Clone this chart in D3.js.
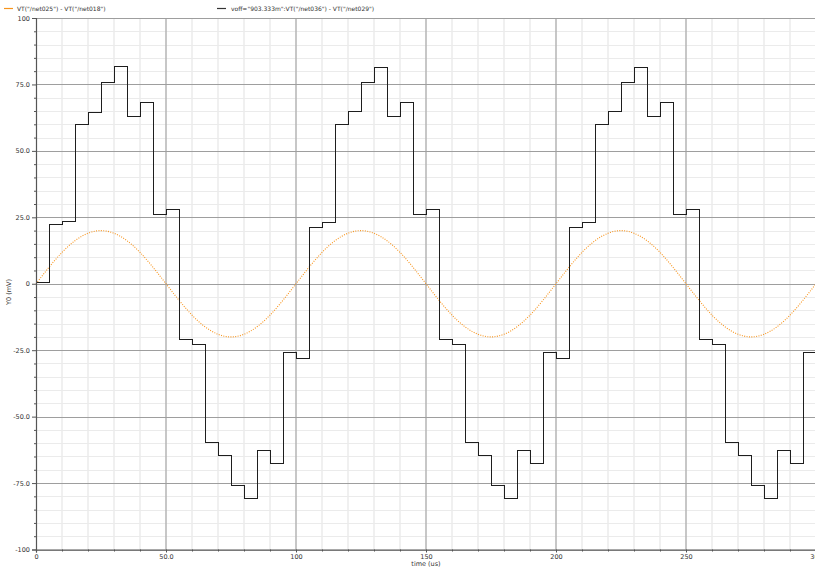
<!DOCTYPE html>
<html><head><meta charset="utf-8">
<script src="https://cdn.jsdelivr.net/npm/d3@7"></script>
<style>
body{margin:0;background:#fff;}
text{font-family:"DejaVu Sans",sans-serif;fill:#333;}
</style></head>
<body><svg id="c" width="815" height="570"></svg>
<script>
// ---- data ----
const legendLabels = ['VT("/net025") - VT("/net018")', 'voff="903.333m":VT("/net036") - VT("/net029")'];
const xTickValues = [0, 50, 100, 150, 200, 250, 300];
const xTickLabels = ["0", "50.0", "100", "150", "200", "250", "300"];
const yTickValues = [100, 75, 50, 25, 0, -25, -50, -75, -100];
const yTickLabels = ["100", "75.0", "50.0", "25.0", "0", "-25.0", "-50.0", "-75.0", "-100"];

// staircase series: start time of each hold (us) and held value (mV)
const stepTimes = [0,5,10,15,20,25,30,35,40,45,50,55,60,65,70,75,80,85,90,95,
  100,105,110,115,120,125,130,135,140,145,150,155,160,165,170,175,180,185,190,195,
  200,205,210,215,220,225,230,235,240,245,250,255,260,265,270,275,280,285,290,295,300];
const stepValues = [0.5,22.4,23.3,60,64.6,75.8,81.6,62.9,68.3,25.9,28.1,-21,-22.7,-59.8,-64.5,-75.8,-80.9,-62.7,-67.8,-25.8,
  -28,21.3,23,59.8,64.7,75.7,81.5,62.8,68.2,26,28,-21,-22.7,-59.8,-64.5,-75.8,-80.9,-62.7,-67.8,-25.8,
  -28,21.3,23,59.8,64.7,75.7,81.5,62.8,68.2,26,28,-21,-22.7,-59.8,-64.5,-75.8,-80.9,-62.7,-67.8,-25.8,-25.8];

// sinusoid series
const sineTimes = [0,5,10,15,20,25,30,35,40,45,50,55,60,65,70,75,80,85,90,95,
  100,105,110,115,120,125,130,135,140,145,150,155,160,165,170,175,180,185,190,195,
  200,205,210,215,220,225,230,235,240,245,250,255,260,265,270,275,280,285,290,295,300];
const sineValues = [0,6.2,11.8,16.2,19,20,19,16.2,11.8,6.2,0,-6.2,-11.8,-16.2,-19,-20,-19,-16.2,-11.8,-6.2,
  0,6.2,11.8,16.2,19,20,19,16.2,11.8,6.2,0,-6.2,-11.8,-16.2,-19,-20,-19,-16.2,-11.8,-6.2,
  0,6.2,11.8,16.2,19,20,19,16.2,11.8,6.2,0,-6.2,-11.8,-16.2,-19,-20,-19,-16.2,-11.8,-6.2,0];

// ---- drawing ----
const svg = d3.select("#c");
const x = d3.scaleLinear().domain([0, 300]).range([36, 816]);
const y = d3.scaleLinear().domain([-100, 100]).range([549.5, 18]);

const g = svg.append("g");
// minor grid
const xMinor = d3.range(0, 301, 10).filter(v => v % 50 !== 0);
const yMinor = d3.range(-100, 101, 5).filter(v => v % 25 !== 0);
g.selectAll(".xm").data(xMinor).join("line")
  .attr("x1", d => x(d)).attr("x2", d => x(d)).attr("y1", y(100)).attr("y2", y(-100))
  .attr("stroke", "#e6e6e6").attr("stroke-width", 1.2);
g.selectAll(".ym").data(yMinor).join("line")
  .attr("x1", x(0)).attr("x2", 815).attr("y1", d => Math.round(y(d)) + 0.5).attr("y2", d => Math.round(y(d)) + 0.5)
  .attr("stroke", "#ebebeb").attr("stroke-width", 1);
// major grid
g.selectAll(".xM").data(xTickValues.slice(1)).join("line")
  .attr("x1", d => x(d)).attr("x2", d => x(d)).attr("y1", y(100)).attr("y2", y(-100))
  .attr("stroke", "#b4b4b4").attr("stroke-width", 1.5);
g.selectAll(".yM").data(yTickValues).join("line")
  .attr("x1", x(0)).attr("x2", 815).attr("y1", d => Math.round(y(d)) + 0.5).attr("y2", d => Math.round(y(d)) + 0.5)
  .attr("stroke", "#9e9e9e").attr("stroke-width", 1);

// sine (dotted orange)
const sineData = sineTimes.map((t, i) => [t, sineValues[i]]);
svg.append("path").datum(sineData)
  .attr("fill", "none").attr("stroke", "#f7941d").attr("stroke-width", 1.1)
  .attr("stroke-dasharray", "1 1.4")
  .attr("d", d3.line().x(d => x(d[0])).y(d => y(d[1])).curve(d3.curveNatural));

// staircase (black)
const stepData = stepTimes.map((t, i) => [t, stepValues[i]]);
svg.append("path").datum(stepData)
  .attr("fill", "none").attr("stroke", "#1e1e1e").attr("stroke-width", 1)
  .attr("shape-rendering", "crispEdges")
  .attr("d", d3.line().x(d => x(d[0])).y(d => y(d[1])).curve(d3.curveStepAfter));

// axes
const yAxis = d3.axisLeft(y).tickValues(yTickValues).tickFormat((d, i) => yTickLabels[i]).tickSize(4).tickPadding(2);
const ya = svg.append("g").attr("transform", `translate(${x(0)},0)`).call(yAxis);
ya.select(".domain").attr("stroke", "#555").attr("stroke-width", 1.2);
ya.selectAll(".tick line").attr("stroke", "#555");
ya.selectAll("text").attr("font-size", 6.5).attr("font-family", "DejaVu Sans").attr("fill", "#333");
const yMinorAxis = d3.axisLeft(y).tickValues(yMinor).tickFormat("").tickSize(2);
const ym = svg.append("g").attr("transform", `translate(${x(0)},0)`).call(yMinorAxis);
ym.select(".domain").remove();
ym.selectAll(".tick line").attr("stroke", "#555");

const xAxis = d3.axisBottom(x).tickValues(xTickValues).tickFormat((d, i) => xTickLabels[i]).tickSize(3).tickPadding(2);
const xa = svg.append("g").attr("transform", `translate(0,${y(-100)})`).call(xAxis);
xa.select(".domain").attr("stroke", "#555").attr("stroke-width", 1.2);
xa.selectAll(".tick line").attr("stroke", "#555");
xa.selectAll("text").attr("font-size", 6.5).attr("font-family", "DejaVu Sans").attr("fill", "#333");
const xMinorAxis = d3.axisBottom(x).tickValues(xMinor).tickFormat("").tickSize(2);
const xm = svg.append("g").attr("transform", `translate(0,${y(-100)})`).call(xMinorAxis);
xm.select(".domain").remove();
xm.selectAll(".tick line").attr("stroke", "#555");

// axis titles
svg.append("text").attr("x", 426).attr("y", 566).attr("text-anchor", "middle")
  .attr("font-size", 6.5).text("time (us)");
svg.append("text").attr("transform", "translate(11,292) rotate(-90)").attr("text-anchor", "middle")
  .attr("font-size", 6.5).text("Y0 (mV)");

// legend
const leg = [{c: "#f7941d", lx: 4, tx: 17}, {c: "#333", lx: 217, tx: 231}];
leg.forEach((l, i) => {
  svg.append("line").attr("x1", l.lx).attr("x2", l.lx + 9).attr("y1", 8.5).attr("y2", 8.5)
    .attr("stroke", l.c).attr("stroke-width", 1.2);
  svg.append("text").attr("x", l.tx).attr("y", 11).attr("font-size", 6).text(legendLabels[i]);
});
</script></body></html>
